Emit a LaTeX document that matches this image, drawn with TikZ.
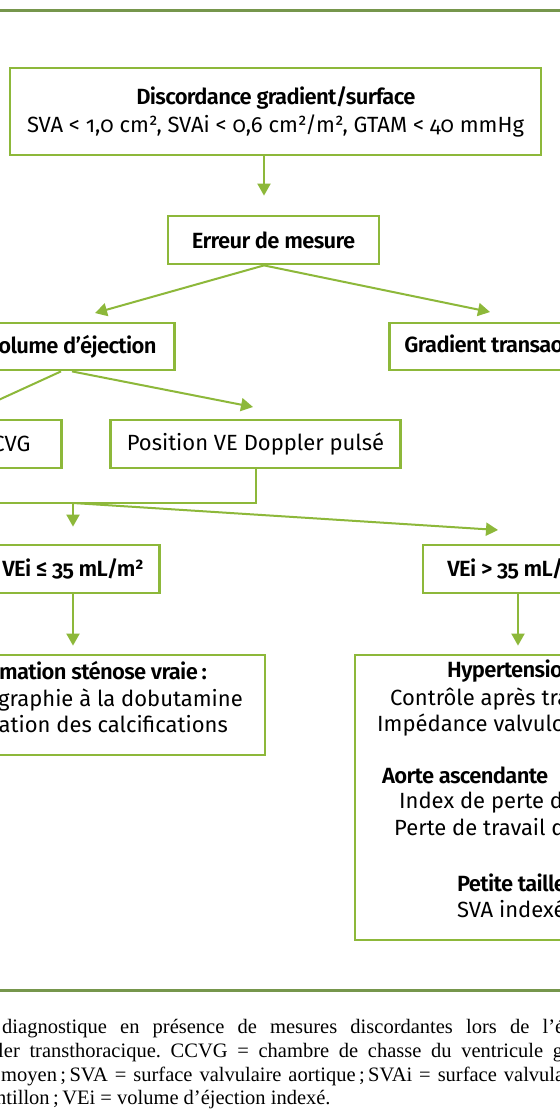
\documentclass[tikz,border=0pt]{standalone}
\usepackage{fontspec}
\setmainfont{Fira Sans}[Numbers=OldStyle, BoldFont={Fira Sans SemiBold},
  BoldFeatures={LetterSpace=-3}]
\newfontfamily\capfont{Liberation Serif}
\usetikzlibrary{arrows.meta,calc}
\definecolor{boxgreen}{RGB}{141,184,58}
\definecolor{rulegreen}{RGB}{118,150,76}
\tikzset{
    flow diagram/.style = {x=1bp, y=-1bp,
                           >={Triangle[length=12bp, width=13bp]}},
    line/.style         = {draw=boxgreen, line width=2bp},
    rule/.style         = {draw=rulegreen, line width=3bp},
    block/.style        = {draw=boxgreen, line width=2.8bp, fill=white,
                           minimum height=48bp, inner xsep=16bp,
                           align=center,
                           font=\fontsize{22bp}{28bp}\selectfont},
    hblock/.style       = {block,
                           font=\fontsize{22bp}{28bp}\selectfont\bfseries},
    txt/.style          = {inner sep=0pt,
                           font=\fontsize{22bp}{28bp}\selectfont},
    btxt/.style         = {txt,
                           font=\fontsize{22bp}{28bp}\selectfont\bfseries},
    caption/.style      = {inner sep=0pt, anchor=base west,
                           font=\capfont\fontsize{20.5bp}{24bp}\selectfont
                                \frenchspacing}
}
\def\leftcol{73}
\def\rightcol{517}

\begin{document}
\begin{tikzpicture}[flow diagram]
\path[use as bounding box, clip] (0,0) rectangle (560,1120);
\fill[white] (0,0) rectangle (560,1120);
\draw[rule] (0,10) -- (560,10);
\draw[rule] (0,990) -- (560,990);

% Discordance and the measurement check
\node[block, minimum width=531bp, minimum height=87bp] (disc) at (275.5,111.5)
  {\textbf{Discordance gradient/surface}\\
   SVA < 1,0 cm², SVAi < 0,6 cm²/m², GTAM < 40 mmHg};
\node[hblock, minimum width=211bp] (err) at (273.5,240) {Erreur de mesure};
\coordinate (stem) at (264,0);
\draw[->, line, shorten >=19bp] (disc.south -| stem) -- (err.north -| stem);

\node[hblock, anchor=east, inner xsep=18bp, minimum height=47bp] (vol)
  at (176,346.5) {Volume d’éjection};
\node[hblock, anchor=west, inner xsep=15bp, minimum height=47bp] (grad)
  at (388,346.5) {Gradient transaortique};
\coordinate (voltip) at (95,313);
\coordinate (gradtip) at (490,312);
\draw[->, line] (err.south -| stem) -- (voltip);
\draw[->, line] (err.south -| stem) -- (gradtip);

% Stroke volume branch
\node[block, anchor=east, inner xsep=31bp] (ccvg) at (63,444) {CCVG};
\node[block, minimum width=281bp] (pos) at (255.5,444)
  {Position VE Doppler pulsé};
\coordinate (ccvgx) at (61,0);
\coordinate (posx) at (72,0);
\coordinate (ccvgtip) at (-19,408);
\coordinate (postip) at (253,407);
\draw[->, line] (vol.south -| ccvgx) -- (ccvgtip);
\draw[->, line] (vol.south -| posx) -- (postip);

\node[hblock, minimum width=172bp] (vle) at (\leftcol,569) {VEi ≤ 35 mL/m²};
\node[hblock, minimum width=190bp] (vgt) at (518,569) {VEi > 35 mL/m²};
\coordinate (merge) at (\leftcol,503);
\coordinate (mergeend) at (-60,503);
\coordinate (vgttip) at (498,530);
\draw[line] (pos.south) |- (mergeend);
\draw[->, line, shorten >=17bp] (merge) -- (vle.north);
\draw[->, line] (merge) -- (vgttip);

% Outcomes
\node[block, minimum width=384bp, minimum height=100bp] (conf)
  at (\leftcol,705) {};
\node[btxt, anchor=mid east] (conf1) at (207,677)
  {Confirmation sténose vraie\,:};
\node[txt, anchor=mid east] (conf2) at (243,704)
  {Échocardiographie à la dobutamine};
\node[txt, anchor=mid east] (conf3) at (228,730)
  {Quantification des calcifications};
\draw[->, line, shorten >=8bp] (vle.south) -- (conf.north);

\node[block, minimum width=324bp, minimum height=285bp] (hyp)
  at (\rightcol,797.5) {};
\node[btxt, anchor=mid west] (hyp1) at (447,675) {Hypertension};
\node[txt, anchor=mid west] (hyp2) at (390,703) {Contrôle après traitement};
\node[txt, anchor=mid west] (hyp3) at (377,729) {Impédance valvulo-artérielle};
\node[btxt, anchor=mid west] (aorte1) at (382,781) {Aorte ascendante};
\node[txt, anchor=mid west] (aorte2) at (399,806) {Index de perte d’énergie};
\node[txt, anchor=mid west] (aorte3) at (394,833) {Perte de travail d’éjection};
\node[btxt, anchor=mid west] (taille1) at (457,889) {Petite taille};
\node[txt, anchor=mid west] (taille2) at (457,915) {SVA indexée};
\draw[->, line, shorten >=8bp] (vgt.south) -- (vgt.south |- hyp.north);

% Legend
\node[caption] (cap1) at (2,1033)
  {\makebox[562bp][s]{diagnostique en présence de mesures discordantes lors de l’é}};
\node[caption] (cap2) at (-2,1057)
  {\makebox[565bp][s]{ler transthoracique. CCVG = chambre de chasse du ventricule g}};
\node[caption] (cap3) at (1,1081)
  {\makebox[563bp][s]{moyen\,;\,SVA = surface valvulaire aortique\,;\,SVAi = surface valvula}};
\node[caption] (cap4) at (-4,1104)
  {ntillon\,;\,VEi = volume d’éjection indexé.};
\end{tikzpicture}
\end{document}
